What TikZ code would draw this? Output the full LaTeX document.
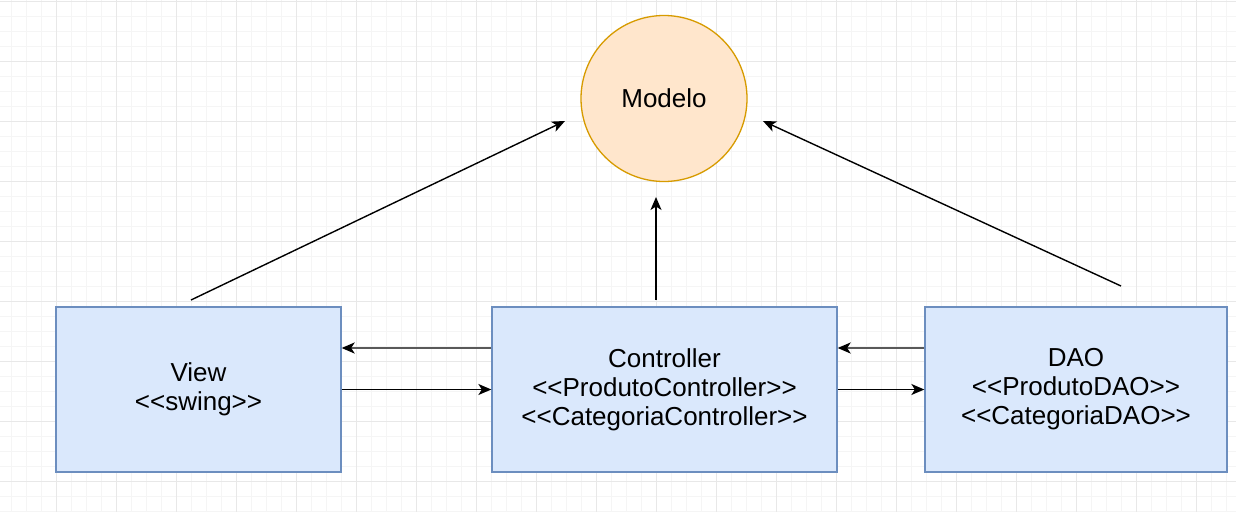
\documentclass[tikz,border=0pt]{standalone}
\usepackage{fontspec}
\setmainfont{Liberation Sans}[Ligatures=TeXOff]
\usetikzlibrary{arrows.meta}
\definecolor{boxfill}{HTML}{DAE8FC}
\definecolor{boxline}{HTML}{6C8EBF}
\definecolor{modfill}{HTML}{FFE6CC}
\definecolor{modline}{HTML}{D79B00}
\definecolor{gridminor}{HTML}{F5F5F5}
\definecolor{gridmajor}{HTML}{E8E8E8}
\begin{document}
\begin{tikzpicture}[x=1pt, y=-1pt, >={Stealth[length=13pt,width=11pt,inset=3.5pt]},
		font=\fontsize{26}{29}\selectfont,
		layer/.style={draw=boxline, fill=boxfill, line width=1.3pt, minimum height=165pt, align=center, inner sep=0pt},
		link/.style={->, line width=1.4pt},
		back/.style={-{Stealth[length=13pt,width=11pt,inset=3.5pt,color=black]}, line width=2pt, draw=black!65}]
		\fill[white] (0,0) rectangle (1243,512);
		\useasboundingbox (0,0) rectangle (1243,512);
		% grid
		\foreach \x in {11,26,...,1236}{
			\draw[gridminor, line width=0.8pt] (\x,0) -- (\x,512);
		}
		\foreach \y in {1,16,...,511}{
			\draw[gridminor, line width=0.8pt] (0,\y) -- (1236,\y);
		}
		\foreach \x in {56,116,...,1196}{
			\draw[gridmajor, line width=0.9pt] (\x,0) -- (\x,512);
		}
		\foreach \y in {1,61,...,481}{
			\draw[gridmajor, line width=0.9pt] (0,\y) -- (1236,\y);
		}
		% nodes
		\node[circle, draw=modline, fill=modfill, line width=1.3pt, minimum size=166pt, inner sep=0pt] (modelo) at (664,98.5) {Modelo};
		\node[layer, minimum width=285pt] (view) at (198.5,389.5) {View\\<<swing>>};
		\node[layer, minimum width=345pt] (ctrl) at (664.5,389.5) {Controller\\<<ProdutoController>>\\<<CategoriaController>>};
		\node[layer, minimum width=302pt] (dao) at (1076,389.5) {DAO\\<<ProdutoDAO>>\\<<CategoriaDAO>>};
		% loose ends towards the model
		\coordinate (vtail) at (191,300);
		\coordinate (vhead) at (565,121);
		\coordinate (ctail) at (656,300);
		\coordinate (chead) at (656,197);
		\coordinate (dtail) at (1121,286);
		\coordinate (dhead) at (763,121);
		\draw[link] (vtail) -- (vhead);
		\draw[link] (ctail) -- (chead);
		\draw[link] (dtail) -- (dhead);
		% between the layers
		\draw[link] (view.east) -- (ctrl.west);
		\draw[link] (ctrl.east) -- (dao.west);
		\draw[back] ([yshift=41.5pt]ctrl.west) -- ([yshift=41.5pt]view.east);
		\draw[back] ([yshift=41.5pt]dao.west) -- ([yshift=41.5pt]ctrl.east);
	\end{tikzpicture}
\end{document}
